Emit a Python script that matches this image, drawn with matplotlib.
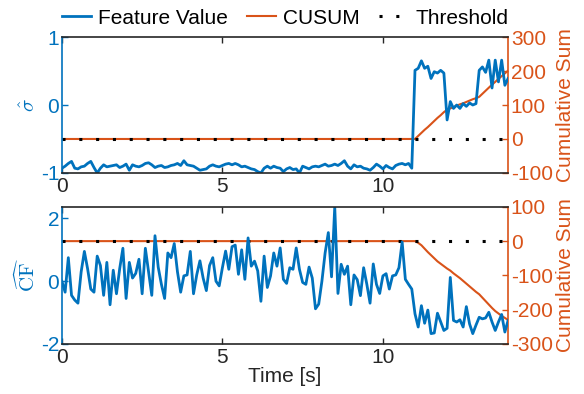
import numpy as np
import matplotlib.pyplot as plt

plt.rcParams['font.family'] = ['Liberation Sans', 'DejaVu Sans']
plt.rcParams['mathtext.fontset'] = 'cm'
plt.rcParams['axes.unicode_minus'] = False
plt.rcParams['font.size'] = 15

blue = '#0072BD'
orange = '#D95319'
grey = '#262626'

# samples every 0.1 s
t = np.arange(140) / 10

# top panel: sigma hat feature and its CUSUM
sigma_hat = [
    -0.93, -0.90, -0.86, -0.83, -0.93, -0.94, -0.91, -0.90, -0.86, -0.83,
    -0.92, -1.00, -0.93, -0.88, -0.91, -0.90, -0.89, -0.88, -0.92, -0.90,
    -0.87, -0.96, -0.88, -0.90, -0.91, -0.89, -0.86, -0.85, -0.88, -0.92,
    -0.90, -0.89, -0.92, -0.91, -0.89, -0.88, -0.86, -0.89, -0.82, -0.88,
    -0.89, -0.90, -0.93, -0.96, -0.95, -0.94, -0.90, -0.88, -0.90, -0.91,
    -0.89, -0.87, -0.86, -0.88, -0.86, -0.88, -0.91, -0.90, -0.92, -0.94,
    -0.95, -0.98, -1.00, -0.93, -0.90, -0.93, -0.90, -0.92, -0.93, -0.98,
    -0.94, -0.92, -0.95, -0.94, -1.00, -0.90, -0.92, -0.94, -0.91, -0.90,
    -0.91, -0.89, -0.87, -0.90, -0.89, -0.87, -0.89, -0.86, -0.82, -0.90,
    -0.94, -0.88, -0.91, -0.90, -0.93, -0.94, -0.96, -0.92, -0.87, -0.90,
    -0.94, -0.89, -0.92, -0.94, -0.89, -0.87, -0.86, -0.88, -0.86, -0.93,
    0.51, 0.54, 0.65, 0.54, 0.57, 0.39, 0.49, 0.47, 0.51, 0.47,
    -0.22, 0.05, -0.05, 0.00, -0.05, 0.02, -0.02, 0.03, 0.00, 0.02,
    0.51, 0.56, 0.48, 0.66, 0.25, 0.66, 0.34, 0.66, 0.29, 0.39,
]
cusum_sigma = [0.0] * 110 + [
    0, 9, 18, 27, 35, 44, 53, 62, 70, 79,
    86, 90, 94, 98, 102, 105, 109, 113, 117, 120,
    124, 133, 142, 151, 160, 168, 177, 185, 193, 201,
]

# bottom panel: CF hat feature and its CUSUM
cf_hat = [
    0.00, -0.35, 0.75, -0.45, -0.60, -0.70, 0.30, 0.95, 0.40, -0.25,
    -0.35, 0.80, 0.50, -0.45, 0.60, -0.75, 0.35, -0.40, 0.40, 1.05,
    -0.55, 0.60, 0.10, 0.25, 0.70, -0.40, 1.05, 0.30, -0.45, 1.45,
    0.45, -0.10, -0.55, 0.90, 0.75, 1.20, 0.30, -0.35, 0.17, 0.20,
    0.95, -0.40, 0.20, 0.65, 0.10, -0.30, 0.50, 0.75, 0.00, -0.15,
    0.43, 0.96, 0.38, 1.10, 1.15, 0.22, 1.00, 0.06, 1.38, 0.48,
    0.64, 0.33, -0.64, 0.80, -0.20, 0.17, 0.90, 0.48, 1.06, 0.06,
    -0.07, 0.43, 0.38, 1.06, 0.38, -0.04, -0.10, 0.45, 0.10, -0.88,
    -0.73, 0.00, 0.90, 1.55, 0.14, 2.37, -0.39, 0.54, 0.22, 0.48,
    -0.75, 0.20, 0.05, -0.46, 0.43, -0.10, -0.70, 0.55, -0.10, -0.39,
    0.17, 0.24, -0.25, 0.17, 0.20, 0.43, 1.25, 0.06, -0.10, -0.25,
    -1.04, -1.46, -0.78, -1.34, -0.92, -1.67, -1.65, -1.02, -1.30, -1.57,
    -1.50, 0.12, -1.25, -1.30, -1.23, -1.46, -0.81, -1.36, -1.67, -1.40,
    -1.15, -1.20, -1.17, -0.99, -1.30, -1.57, -1.30, -1.06, -1.62, -1.25,
]
cusum_cf = [0.0] * 110 + [
    0, -5, -12, -22, -32, -41, -50, -59, -66, -73,
    -80, -86, -94, -101, -108, -116, -124, -132, -140, -148,
    -155, -165, -175, -185, -195, -204, -211, -218, -224, -230,
]
threshold = 0.0

panels = [
    (sigma_hat, cusum_sigma, r'$\hat{\sigma}$', (-1, 1), [-1, 0, 1],
     (-100, 300), [-100, 0, 100, 200, 300]),
    (cf_hat, cusum_cf, r'$\widehat{\mathrm{CF}}$', (-2, 2.37), [-2, 0, 2],
     (-300, 100), [-300, -200, -100, 0, 100]),
]
positions = [[0.106, 0.561, 0.764, 0.345], [0.106, 0.127, 0.764, 0.348]]

fig = plt.figure(figsize=(5.84, 3.94), dpi=100)
handles = []
for i, (feat, cus, lab, ylim1, yt1, ylim2, yt2) in enumerate(panels):
    ax = fig.add_axes(positions[i])
    ax2 = ax.twinx()
    # feature line drawn over the CUSUM axis, like yyaxis
    ax.set_zorder(ax2.get_zorder() + 1)
    ax.patch.set_visible(False)

    h1, = ax.plot(t, feat, color=blue, lw=2.0, label='Feature Value')
    h2, = ax2.plot(t, cus, color=orange, lw=1.5, label='CUSUM')
    h3, = ax2.plot(t, [threshold] * len(t), color='black', lw=2.2,
                   linestyle=(0, (1, 4.5)), dash_capstyle='butt', label='Threshold')
    if i == 0:
        handles = [h1, h2, h3]

    ax.set_xlim(t[0], t[-1])
    ax.set_ylim(*ylim1)
    ax.set_yticks(yt1)
    ax.set_xticks([0, 5, 10])
    ax2.set_ylim(*ylim2)
    ax2.set_yticks(yt2)

    ax.spines['right'].set_visible(False)
    ax.spines['left'].set_color(blue)
    ax.spines['top'].set_color(grey)
    ax.spines['bottom'].set_color(grey)
    for s in ['left', 'top', 'bottom']:
        ax2.spines[s].set_visible(False)
    ax2.spines['right'].set_color(orange)
    for s in ax.spines.values():
        s.set_linewidth(1.2)
    ax2.spines['right'].set_linewidth(1.2)

    ax.tick_params(axis='x', direction='in', top=True, colors=grey,
                   length=4, width=1, pad=3)
    ax.tick_params(axis='y', direction='in', colors=blue, length=4, width=1, pad=2)
    ax2.tick_params(axis='y', direction='in', colors=orange, length=4, width=1, pad=2)

    ax.set_ylabel(lab, color=blue, labelpad=1)
    ax2.set_ylabel('Cumulative Sum', color=orange, labelpad=2)
    if i == 1:
        ax.set_xlabel('Time [s]', color=grey, labelpad=0)

fig.legend(handles=handles, loc='center', bbox_to_anchor=(0.488, 0.954), ncol=3,
           frameon=False, handlelength=1.4, handletextpad=0.35, columnspacing=0.9,
           borderaxespad=0, fontsize=15)

fig.savefig('out.png', dpi=100)
